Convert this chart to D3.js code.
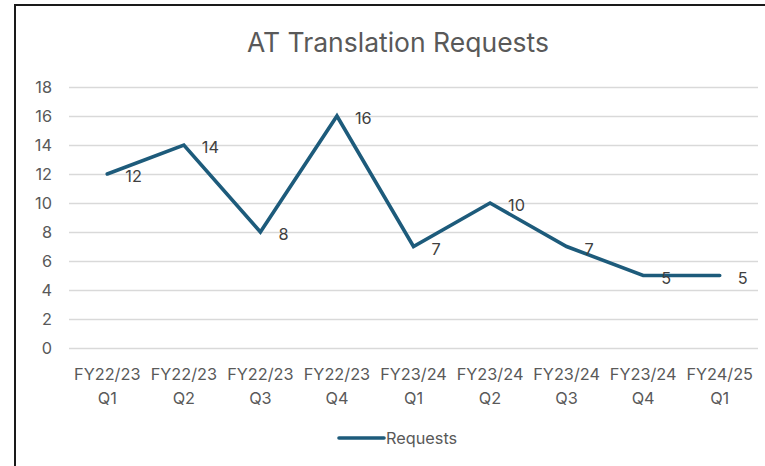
<!DOCTYPE html>
<html>
<head>
<meta charset="utf-8">
<script src="https://cdn.jsdelivr.net/npm/d3@7"></script>
<style>
  body { margin: 0; background: #fff; }
  text { font-family: Inter, "Noto Sans", sans-serif; }
</style>
</head>
<body>
<div id="chart"></div>
<script>
// DATA
const quarters = ["FY22/23 Q1", "FY22/23 Q2", "FY22/23 Q3", "FY22/23 Q4", "FY23/24 Q1",
                  "FY23/24 Q2", "FY23/24 Q3", "FY23/24 Q4", "FY24/25 Q1"];
const requests = [12, 14, 8, 16, 7, 10, 7, 5, 5];
const yTicks = [0, 2, 4, 6, 8, 10, 12, 14, 16, 18];

// SIZES
const width = 765;
const height = 466;
const lineColor = "#1d5b7b";
const textColor = "#595959";
const fontSize = "16.3px";

const svg = d3.select("#chart")
    .append("svg")
    .attr("width", width)
    .attr("height", height);

// CHART BORDER
svg.append("rect")
    .attr("x", 15)
    .attr("y", 5)
    .attr("width", 800)
    .attr("height", 500)
    .attr("fill", "#fff")
    .attr("stroke", "#1a1a1a")
    .attr("stroke-width", 2);

// SCALES
const x = d3.scalePoint()
    .domain(quarters)
    .range([69, 758])
    .padding(0.5);

const y = d3.scaleLinear()
    .domain([0, 18])
    .range([348, 87]);

// TITLE
svg.append("text")
    .attr("x", 398)
    .attr("y", 52)
    .attr("text-anchor", "middle")
    .attr("fill", textColor)
    .style("font-size", "26.5px")
    .text("AT Translation Requests");

// GRIDLINES + Y LABELS
const yAxis = d3.axisLeft(y)
    .tickValues(yTicks)
    .tickSize(-(758 - 69))
    .tickPadding(17);

const gy = svg.append("g")
    .attr("transform", "translate(69,0)")
    .call(yAxis);
gy.select(".domain").remove();
gy.selectAll(".tick line").attr("stroke", "#d9d9d9").attr("stroke-width", 1.3);
gy.selectAll(".tick text")
    .attr("fill", textColor)
    .style("font-size", fontSize)
    .style("font-family", "Inter");

// X LABELS (two lines)
const gx = svg.append("g");
gx.selectAll("text")
    .data(quarters)
    .enter().append("text")
    .attr("text-anchor", "middle")
    .attr("fill", textColor)
    .style("font-size", fontSize)
    .each(function (d) {
        const parts = d.split(" ");
        const t = d3.select(this);
        t.append("tspan").attr("x", x(d)).attr("y", 380).text(parts[0]);
        t.append("tspan").attr("x", x(d)).attr("y", 404).text(parts[1]);
    });

// LINE
const line = d3.line()
    .x(function (d, i) { return x(quarters[i]); })
    .y(function (d) { return y(d); });

svg.append("path")
    .datum(requests)
    .attr("d", line)
    .attr("fill", "none")
    .attr("stroke", lineColor)
    .attr("stroke-width", 3.6)
    .attr("stroke-linejoin", "miter")
    .attr("stroke-linecap", "round");

// DATA LABELS
svg.selectAll(".dlabel")
    .data(requests)
    .enter().append("text")
    .attr("class", "dlabel")
    .attr("x", function (d, i) { return x(quarters[i]) + 18; })
    .attr("y", function (d) { return y(d) + 8; })
    .attr("fill", "#404040")
    .style("font-size", fontSize)
    .text(function (d) { return d; });

// LEGEND
svg.append("line")
    .attr("x1", 339)
    .attr("x2", 384)
    .attr("y1", 438)
    .attr("y2", 438)
    .attr("stroke", lineColor)
    .attr("stroke-width", 3.6)
    .attr("stroke-linecap", "round");

svg.append("text")
    .attr("x", 386)
    .attr("y", 444)
    .attr("fill", textColor)
    .style("font-size", fontSize)
    .text("Requests");
</script>
</body>
</html>
